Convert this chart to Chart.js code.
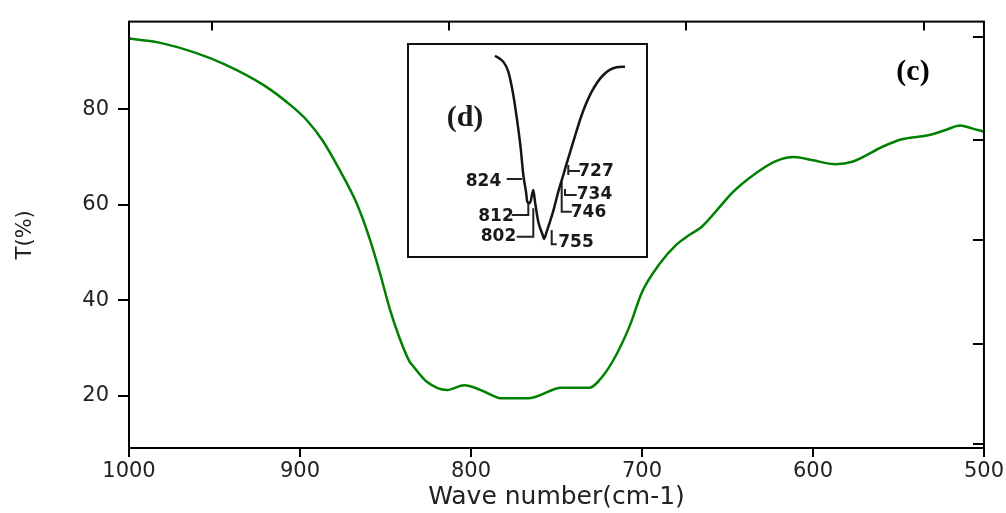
<!DOCTYPE html>
<html>
<head>
<meta charset="utf-8">
<script src="https://cdn.jsdelivr.net/npm/chart.js@4"></script>
<style>
  body{margin:0;background:#fff;overflow:hidden;}
  #wrap{position:relative;width:1006px;height:513px;}
  #inset{position:absolute;left:407px;top:43px;width:237px;height:211px;border:2px solid #111;background:#fff;}
</style>
</head>
<body>
<div id="wrap">
  <canvas id="main" width="1006" height="513"></canvas>
  <div id="inset"><canvas id="insetChart" width="237" height="211"></canvas></div>
</div>
<script>
// Main spectrum (c)
const waveNumbers=[1000,983,961,944,921,906,896,886.5,877,867,859,853,850.5,847.5,842,836,834,826,814,804,795,787,783,766,747,731,723,715,707,700,690,680,673,665,653,647,633,622,611,600,587,577,559,548,532,522,514,507,500];
const transmittance=[94.8,94.0,91.8,89.4,85.0,81.0,77.7,73.3,67.4,60.4,52.6,45.4,42.1,38.2,32.3,27.2,26.3,23.0,21.2,22.2,21.3,20.0,19.5,19.5,21.7,21.7,24.1,28.6,34.8,41.7,47.5,51.6,53.5,55.4,60.2,62.6,66.7,69.1,70.0,69.3,68.5,69.0,72.2,73.7,74.6,75.7,76.6,76.0,75.3];
const yTickValues=[20,40,60,80];
const topTickValues=[951.5,813,674,535];
const rightTickValues=[95.05,73.6,52.6,30.9,9.9];

// Inset spectrum (d), in the inset's own units
const insetX=[86,94.3,99.3,104.3,108.3,111.7,114.3,117,118.3,121,124.3,126,129.3,133.7,135,137.7,141,145,149.3,154.3,157.7,164.3,172.7,182.7,194.3,207.7,216];
const insetY=[200.3,194.3,184.3,161,134.3,107.7,81,64.3,54.3,53,66,54.3,34.3,21,17,24.3,34.3,47.7,64.3,81,92.7,114.3,141,164.3,181,188.7,189.3];
const peakLabels=['824','812','802','755','727','734','746'];
const peakLabelX=[74.5,87,89.5,167,187,185.5,179.5];
const peakLabelY=[74.3,39.3,19.3,13,84.3,61,43];
const peakLeaders=[
  [[97.7,77],[113,77]],
  [[102.7,41],[119.3,41],[119.3,54]],
  [[107.7,19.3],[124.3,19.3],[124.3,47.7]],
  [[142.7,26],[142.7,11.7],[147.7,11.7]],
  [[159.3,91],[159.3,81],[159.3,85],[171,85]],
  [[156,67],[156,61],[167.7,61]],
  [[152.7,74.3],[152.7,44.3],[162.7,44.3]]
];

const tickFont={family:'DejaVu Sans',size:21};

// frame, inward ticks and panel tag
const framePlugin={
  id:'frame',
  afterDatasetsDraw(chart){
    const {ctx,chartArea:a,scales:{x,y}}=chart;
    ctx.save();
    ctx.strokeStyle='#000';ctx.lineWidth=2;
    ctx.strokeRect(a.left,a.top,a.right-a.left,a.bottom-a.top);
    ctx.beginPath();
    topTickValues.forEach(v=>{const px=Math.round(x.getPixelForValue(v));ctx.moveTo(px,a.top);ctx.lineTo(px,a.top+9);});
    rightTickValues.forEach(v=>{const py=Math.round(y.getPixelForValue(v));ctx.moveTo(a.right,py);ctx.lineTo(a.right-11,py);});
    ctx.stroke();
    ctx.font='bold 30px "Liberation Serif"';ctx.fillStyle='#000';
    ctx.textAlign='center';ctx.textBaseline='middle';
    ctx.fillText('(c)',x.getPixelForValue(541.5),y.getPixelForValue(87.7));
    ctx.restore();
  }
};

new Chart(document.getElementById('main'),{
  type:'line',
  data:{datasets:[{
    data:waveNumbers.map((w,i)=>({x:w,y:transmittance[i]})),
    borderColor:'#008000',borderWidth:2.5,pointRadius:0,
    cubicInterpolationMode:'monotone',fill:false
  }]},
  options:{
    responsive:false,animation:false,devicePixelRatio:1,
    layout:{padding:{left:0,right:21,top:15,bottom:0}},
    plugins:{legend:{display:false},tooltip:{enabled:false}},
    scales:{
      x:{type:'linear',min:500,max:1000,reverse:true,
        afterFit:s=>{s.height=65;},
        ticks:{stepSize:100,color:'#222',font:tickFont,padding:2,maxRotation:0,callback:v=>String(v)},
        grid:{drawOnChartArea:false,tickLength:9,color:'#000',lineWidth:2},
        border:{color:'#000',width:2},
        title:{display:true,text:'Wave number(cm-1)',color:'#222',font:{family:'DejaVu Sans',size:25},padding:{top:0,bottom:1}}
      },
      y:{type:'linear',min:9.07,max:98.35,
        afterFit:s=>{s.width=129;},
        afterBuildTicks:s=>{s.ticks=yTickValues.map(v=>({value:v}));},
        ticks:{color:'#222',font:tickFont,padding:9},
        grid:{drawOnChartArea:false,tickLength:11,color:'#000',lineWidth:2},
        border:{color:'#000',width:2},
        title:{display:true,text:'T(%)',color:'#222',font:{family:'DejaVu Sans',size:21},padding:{top:13,bottom:0}}
      }
    }
  },
  plugins:[framePlugin]
});

// inset labels
const insetLabelPlugin={
  id:'insetLabels',
  afterDatasetsDraw(chart){
    const {ctx,scales:{x,y}}=chart;
    ctx.save();
    ctx.fillStyle='#1a1a1a';
    ctx.font='bold 30px "Liberation Serif"';
    ctx.textAlign='center';ctx.textBaseline='middle';
    ctx.fillText('(d)',x.getPixelForValue(56),y.getPixelForValue(138));
    ctx.beginPath();ctx.rect(0,0,chart.width,203);ctx.clip();
    ctx.font='bold 17px "DejaVu Sans"';
    peakLabels.forEach((t,i)=>{
      ctx.fillText(t,x.getPixelForValue(peakLabelX[i]),y.getPixelForValue(peakLabelY[i]));
    });
    ctx.restore();
  }
};

new Chart(document.getElementById('insetChart'),{
  type:'line',
  data:{datasets:[
    {data:insetX.map((v,i)=>({x:v,y:insetY[i]})),borderColor:'#151515',borderWidth:2.5,pointRadius:0,cubicInterpolationMode:'monotone'},
    ...peakLeaders.map(seg=>({data:seg.map(p=>({x:p[0],y:p[1]})),borderColor:'#222',borderWidth:2,pointRadius:0,tension:0}))
  ]},
  options:{
    responsive:false,animation:false,devicePixelRatio:1,
    layout:{padding:0},
    plugins:{legend:{display:false},tooltip:{enabled:false}},
    scales:{
      x:{type:'linear',min:0,max:237,display:false},
      y:{type:'linear',min:0,max:211,display:false}
    }
  },
  plugins:[insetLabelPlugin]
});
</script>
</body>
</html>
